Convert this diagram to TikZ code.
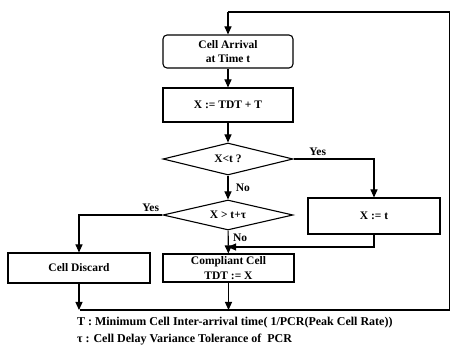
\documentclass[tikz,border=0pt]{standalone}
\usepackage{fontspec}
\setmainfont{Liberation Serif}
\usetikzlibrary{arrows.meta,shapes.geometric}

\begin{document}
\begin{tikzpicture}[
    x=1pt, y=-1pt,
    >={Triangle[length=8pt,width=7pt]},
    every node/.style={font=\fontsize{11.5}{14.5}\selectfont\bfseries},
    box/.style={draw, line width=1.1pt, inner sep=1pt, align=center},
    cond/.style={draw, diamond, aspect=4, line width=1.1pt, inner sep=0pt},
    flow/.style={line width=1.1pt},
    note/.style={anchor=west, font=\fontsize{12}{14}\selectfont\bfseries},
]

\useasboundingbox (0,0) rectangle (450,355);

% ============================================================
% BOXES
% ============================================================
\node[box, rounded corners=4pt, minimum width=130pt, minimum height=33pt]
    (arrival) at (228,51.5) {Cell Arrival\\at Time t};
\node[box, minimum width=130pt, minimum height=34pt]
    (update) at (228,105) {X := TDT + T};
\node[cond, minimum width=130pt, minimum height=32pt]
    (early) at (228,159) {X<t ?};
\node[cond, minimum width=130pt, minimum height=30pt]
    (late) at (228,215) {X > t+τ};
\node[box, minimum width=132pt, minimum height=36pt]
    (reset) at (374,216) {X := t};
\node[box, minimum width=142pt, minimum height=30pt]
    (discard) at (79,268) {Cell Discard};
\node[box, minimum width=131pt, minimum height=28pt]
    (comply) at (228.5,268) {Compliant Cell\\TDT := X};

% loop corners
\coordinate (loopTop) at (228,12);
\coordinate (topR) at (449.5,12);
\coordinate (botR) at (449.5,310);
\coordinate (botL) at (80,310);
\coordinate (merge) at (228,247);

% ============================================================
% CONNECTORS
% ============================================================
\draw[flow] (botL) -- (botR) -- (topR) -- (loopTop);
\draw[flow,->] (loopTop) -- (arrival);
\draw[flow,->] (arrival) -- (update);
\draw[flow,->] (update) -- (early);
\draw[flow,->] (early) -- node[right=4pt] {No} (late);
\draw[flow,->] (early.east) -| node[above, pos=0.15] {Yes} (reset.north);
\draw[flow,->] (late.west) -| node[above, pos=0.07] {Yes} (discard.north);
\draw[flow,->] (late) -- node[right=1pt, pos=0.3] {No} (comply);
\draw[flow,->] (reset.south) |- (merge);
\draw[flow,->] (discard) -- (discard |- botL);
\draw[flow,->] (comply) -- (comply |- botL);

% ============================================================
% NOTES
% ============================================================
\node[note] (noteT) at (73.5,323)
    {T : Minimum Cell Inter-arrival time( 1/PCR(Peak Cell Rate))};
\node[note] (noteTau) at (73.5,340)
    {τ : Cell Delay Variance Tolerance of\ \ PCR};

\end{tikzpicture}
\end{document}
